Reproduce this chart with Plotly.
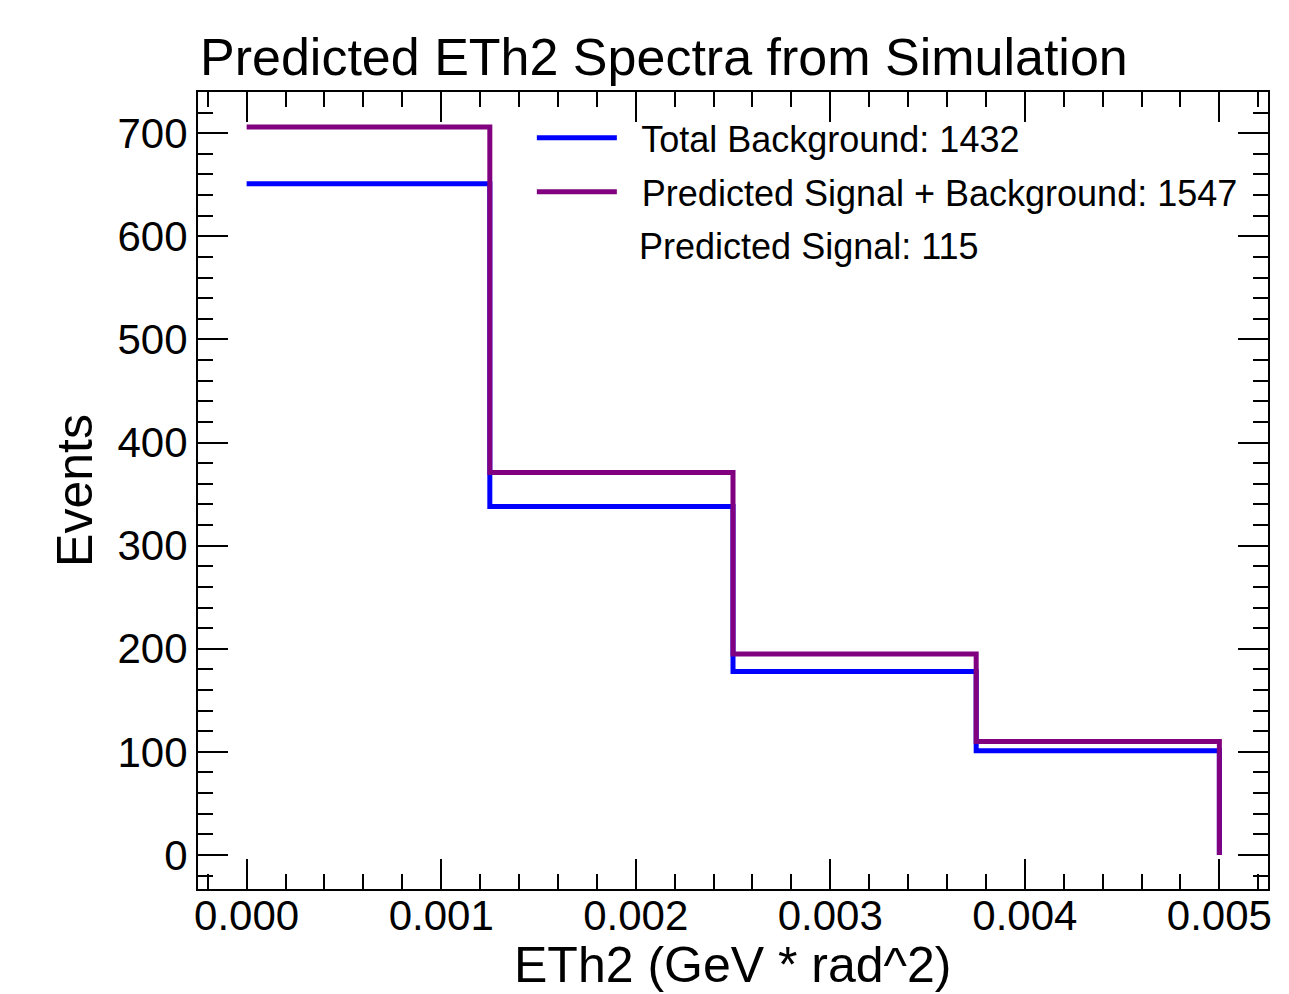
import plotly.graph_objects as go

bin_edges = [0.0, 0.00125, 0.0025, 0.00375, 0.005]
background = [651, 338, 178, 101]
signal_plus_bg = [706, 371, 195, 110]
signal = [55, 33, 17, 9]

legend_bg = "Total Background: 1432"
legend_sb = "Predicted Signal + Background: 1547"
legend_sig = "Predicted Signal: 115"
x_title = "ETh2 (GeV * rad^2)"

FONT = "Liberation Sans"

def step_y(vals):
    return list(vals) + [0]

fig = go.Figure()
fig.add_trace(go.Scatter(
    x=bin_edges, y=step_y(background), mode="lines", line_shape="hv",
    line=dict(color="#0000FF", width=5), name="  " + legend_bg, legendgroup="a"))
fig.add_trace(go.Scatter(
    x=bin_edges, y=step_y(signal_plus_bg), mode="lines", line_shape="hv",
    line=dict(color="#800080", width=5), name="  " + legend_sb, legendgroup="b"))
fig.add_trace(go.Scatter(
    x=bin_edges, y=step_y(signal), mode="lines", line_shape="hv",
    line=dict(color="rgba(0,0,0,0)", width=0), name="\u2009 " + legend_sig, legendgroup="c",
    hoverinfo="skip"))

axis_common = dict(
    showgrid=False, zeroline=False, showline=True, linecolor="black", linewidth=2,
    mirror="allticks", ticks="inside", tickcolor="black", tickwidth=2, ticklen=30,
    automargin=False,
    tickfont=dict(family=FONT, size=42, color="black"),
)

fig.update_layout(
    width=1289, height=994,
    margin=dict(l=198, r=21, t=92, b=105),
    paper_bgcolor="white", plot_bgcolor="white",
    font=dict(family=FONT, color="black"),
    title=dict(text="Predicted ETh2 Spectra from Simulation", x=200/1289, xanchor="left",
               y=1 - 57/994, yanchor="middle", font=dict(family=FONT, size=52, color="black")),
    xaxis=dict(range=[-0.00025, 0.00525], dtick=0.001, tickformat=".3f",
               minor=dict(dtick=0.0002, ticks="inside", ticklen=15, tickcolor="black", tickwidth=2),
               ticklabelstandoff=-11,
               **axis_common),
    yaxis=dict(range=[-33, 740], dtick=100,
               minor=dict(dtick=20, ticks="inside", ticklen=15, tickcolor="black", tickwidth=2),
               title=dict(text="Events", font=dict(family=FONT, size=50), standoff=9),
               ticklabelstandoff=0,
               **axis_common),
    legend=dict(x=0.312, y=0.98, xanchor="left", yanchor="top",
                font=dict(family=FONT, size=36, color="black"),
                bgcolor="rgba(0,0,0,0)", itemwidth=80, tracegroupgap=4,
                traceorder="grouped"),
    showlegend=True,
    annotations=[dict(text=x_title, xref="paper", yref="paper", x=0.5, y=0,
                      xanchor="center", yanchor="top", yshift=-46, showarrow=False,
                      font=dict(family=FONT, size=50, color="black"))],
)

fig.write_html("out.html")
